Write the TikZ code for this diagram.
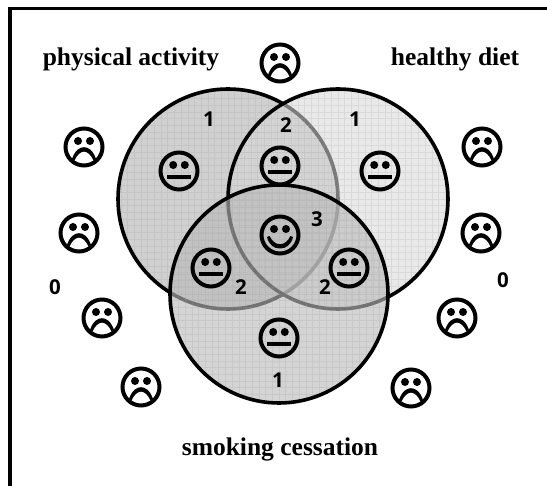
\documentclass[tikz,border=0pt]{standalone}
\usepackage{fontspec}
\setmainfont{Liberation Serif}
\newfontfamily\numfont{Open Sans}
\tikzset{
  setlabel/.style={font=\fontsize{25.5}{28}\selectfont\bfseries},
  count/.style={font=\numfont\fontsize{20.5}{22}\selectfont\bfseries},
  facering/.style={line width=4pt},
  plainface/.pic={
    \draw[facering] (0,0) circle (18.5);
    \fill (-5.8,-6) circle (4);
    \fill (5.8,-6) circle (4);
    \fill (-12.2,4) rectangle (12.2,8.4);
  },
  sadface/.pic={
    \draw[facering] (0,0) circle (18.5);
    \fill (-6,-6) circle (4);
    \fill (6,-6) circle (4);
    \fill (-12,12) .. controls (-9,3) and (-4,0.2) .. (0,0.2)
      .. controls (4,0.2) and (9,3) .. (12,12)
      -- (9.5,13.5) .. controls (7,7.5) and (3,4.6) .. (0,4.6)
      .. controls (-3,4.6) and (-7,7.5) .. (-9.5,13.5) -- cycle;
  },
  smileface/.pic={
    \draw[facering] (0,0) circle (18.5);
    \fill (-6,-6) circle (4);
    \fill (6,-6) circle (4);
    \fill (-13,2) .. controls (-11,10) and (-6,13.5) .. (0,13.5)
      .. controls (6,13.5) and (11,10) .. (13,2)
      -- (10.4,1) .. controls (8,6.5) and (4,9.2) .. (0,9.2)
      .. controls (-4,9.2) and (-8,6.5) .. (-10.4,1) -- cycle;
  },
}
\begin{document}
\begin{tikzpicture}[x=1pt,y=-1pt]
  \useasboundingbox (0,0) rectangle (547,486);
  \fill[white] (0,0) rectangle (547,486);
  \draw[line width=3.4pt] (547,8.5) -- (10,8.5) -- (10,486);
  % the three sets, each one laid over the ones before it
  \foreach \cx/\cy/\rad/\shade/\op in {228/199/110/208/1, 338/199/110/216/0.56, 279/294/109/186/0.615} {
    \definecolor{setfill}{RGB}{\shade,\shade,\shade}
    \fill[setfill,fill opacity=\op] (\cx,\cy) circle (\rad);
    \begin{scope}
      \clip (\cx,\cy) circle (\rad);
      \draw[black!40,line width=0.6pt,opacity=0.2,step=6.7pt,shift={(\cx,\cy)}] (-112,-112) grid (112,112);
    \end{scope}
    \draw[line width=3.6pt] (\cx,\cy) circle (\rad);
  }
  \foreach \px/\py in {280/63, 84/147, 482/147, 79/233, 481/233, 102/318, 457/318, 141/387, 411/388} {
    \pic at (\px,\py) {sadface};
  }
  \foreach \px/\py in {179/171, 280/166, 380/171, 211/268, 349/268, 279/338} {
    \pic at (\px,\py) {plainface};
  }
  \pic at (280,235) {smileface};
  \node[setlabel] (activity) at (131,59) {physical activity};
  \node[setlabel] (diet) at (455,59) {healthy diet};
  \node[setlabel] (smoking) at (280,449) {smoking cessation};
  \node[count] (n1a) at (209,119) {1};
  \node[count] (n2a) at (286,125) {2};
  \node[count] (n1b) at (355,119) {1};
  \node[count] (n3) at (317,219) {3};
  \node[count] (n2b) at (241,287) {2};
  \node[count] (n2c) at (325,287) {2};
  \node[count] (n1c) at (278,380) {1};
  \node[count] (n0a) at (55,287) {0};
  \node[count] (n0b) at (503,280) {0};
\end{tikzpicture}
\end{document}
